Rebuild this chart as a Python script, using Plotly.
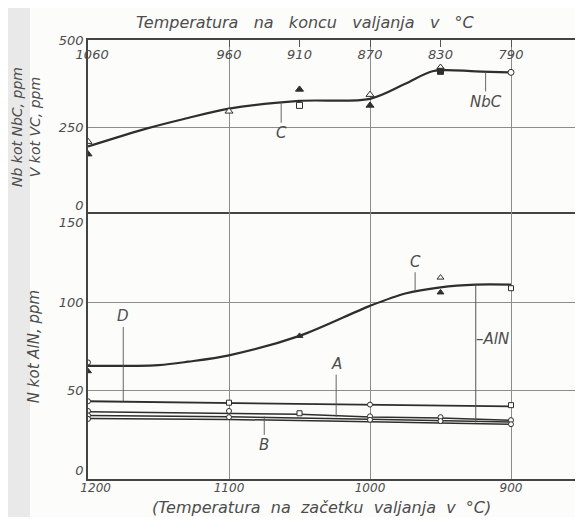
import plotly.graph_objects as go

# ---------------- data ----------------
# bottom axis: start-of-rolling temperature (°C); top axis: end-of-rolling temperature labels
x_start_ticks = [1200, 1100, 1000, 900]
x_start_labels = ["\u00a0\u00a0\u00a0\u00a01200", "1100", "1000", "900"]
x_end_pos = [1200, 1100, 1050, 1000, 950, 900]
x_end_labels = ["\u00a0\u00a01060", "960", "910", "870", "830", "790"]

y_top_ticks = [0, 250, 500]
y_top_labels = ["0<br> ", "250", "500"]
y_bot_ticks = [0, 50, 100, 150]
y_bot_labels = ["0<br> ", "50", "100", " <br>150"]

# upper panel: Nb as NbC / V as VC (ppm)
nbc_x = [1200, 1158, 1132, 1100, 1050, 1000, 975, 955, 925, 900]
nbc_y = [194, 246, 273, 303, 325, 331, 374, 411, 410, 407]
up_open_tri_x = [1200, 1100, 1000, 950]
up_open_tri_y = [208, 295, 343, 421]
up_fill_tri_x = [1200, 1050, 1000]
up_fill_tri_y = [172, 358, 312]
up_open_sq_x = [1050]
up_open_sq_y = [312]
up_fill_sq_x = [950]
up_fill_sq_y = [410]
up_open_circ_x = [900]
up_open_circ_y = [407]

# lower panel: N as AlN (ppm)
aln_x = [1200, 1150, 1129, 1100, 1050, 1000, 975, 950, 925, 900]
aln_y = [64, 64.5, 66.4, 70, 81, 98, 105, 108.5, 110, 110]
d_x = [1200, 1100, 1000, 900]
d_y = [44, 42.9, 42.1, 41.1]
a_x = [1200, 1100, 1050, 1000, 950, 900]
a_y = [38, 37, 36.6, 35.1, 34.5, 33.3]
b_x = [1200, 1100, 1000, 950, 900]
b_y = [36, 35.2, 33.8, 33.2, 32.3]
e_x = [1200, 1100, 1000, 900]
e_y = [34.3, 33.7, 32.4, 31.0]

lo_open_circ_x = [1200, 1200, 1000, 1200, 1200, 1200, 1100, 1100, 1000, 1000, 950, 950, 900, 900]
lo_open_circ_y = [66, 44, 42.1, 38.5, 36, 34, 38.5, 35, 35.5, 33.5, 35, 32.8, 33.3, 31]
lo_open_sq_x = [1100, 900, 1050, 900]
lo_open_sq_y = [43.2, 41.8, 37.2, 108]
lo_fill_tri_x = [1200, 1050, 950]
lo_fill_tri_y = [61, 81, 105.6]
lo_open_tri_x = [950]
lo_open_tri_y = [114]

# leader labels: (text, label x, label y, target y)
top_labels = [("C", 1063, 232, 322), ("NbC", 918, 322, 409)]
bot_labels = [("C", 968, 123, 106.5), ("D", 1175, 92, 44), ("A", 1024, 65, 35.2), ("B", 1075, 19, 35.4)]
aln_bracket_x = 925
aln_bracket_y = [110, 32.0]
aln_label_y = 79

INK = "#2e2e2e"
TXT = "#4d4d4d"
GRID = "#8c8c8c"
SP = "\u00a0"

fig = go.Figure()

def add(x, y, xa, ya, mode, symbol=None, size=7, width=2.0, shape="linear", filled=False):
    fig.add_trace(go.Scatter(
        x=x, y=y, xaxis=xa, yaxis=ya, mode=mode,
        line=dict(color=INK, width=width, shape=shape, smoothing=0.9),
        marker=dict(symbol=symbol or "circle", size=size,
                    color=INK if filled else "#fcfcfb",
                    line=dict(color=INK, width=1.0)),
        hoverinfo="skip"))

# upper panel
add(nbc_x, nbc_y, "x", "y2", "lines", shape="spline", width=2.2)
add(up_open_tri_x, up_open_tri_y, "x", "y2", "markers", "triangle-up", 7)
add(up_fill_tri_x, up_fill_tri_y, "x", "y2", "markers", "triangle-up", 7, filled=True)
add(up_open_sq_x, up_open_sq_y, "x", "y2", "markers", "square", 6)
add(up_fill_sq_x, up_fill_sq_y, "x", "y2", "markers", "square", 6, filled=True)
add(up_open_circ_x, up_open_circ_y, "x2", "y2", "markers", "circle", 6)

# lower panel
add(aln_x, aln_y, "x", "y", "lines", shape="spline", width=2.2)
add(d_x, d_y, "x", "y", "lines", width=1.8)
add(a_x, a_y, "x", "y", "lines", width=1.5)
add(b_x, b_y, "x", "y", "lines", width=1.5)
add(e_x, e_y, "x", "y", "lines", width=1.5)
add(lo_open_circ_x, lo_open_circ_y, "x", "y", "markers", "circle", 5)
add(lo_open_sq_x, lo_open_sq_y, "x", "y", "markers", "square", 5)
add(lo_fill_tri_x, lo_fill_tri_y, "x", "y", "markers", "triangle-up", 6, filled=True)
add(lo_open_tri_x, lo_open_tri_y, "x", "y", "markers", "triangle-up", 6)

annotations = []
for t, lx, ly, ty in top_labels:
    annotations.append(dict(x=lx, y=ty, xref="x", yref="y2", ax=lx, ay=ly, axref="x", ayref="y2",
                            text=t, showarrow=True, arrowhead=0, arrowwidth=0.9, arrowcolor="#555",
                            standoff=0, startstandoff=0, font=dict(size=15, color=TXT)))
for t, lx, ly, ty in bot_labels:
    annotations.append(dict(x=lx, y=ty, xref="x", yref="y", ax=lx, ay=ly, axref="x", ayref="y",
                            text=t, showarrow=True, arrowhead=0, arrowwidth=0.9, arrowcolor="#555",
                            standoff=0, startstandoff=0, font=dict(size=15, color=TXT)))
annotations.append(dict(x=aln_bracket_x, y=aln_label_y, xref="x", yref="y", text="–AlN",
                        showarrow=False, xanchor="left", xshift=-2, font=dict(size=15, color=TXT)))

# page has an 8px body margin: figure is sized to fit the 583x525 window without overflow
W, H = 567, 509
ML, MR, MT, MB = 80, 0, 32, 38
PW = W - ML - MR

top_title = (SP * 3).join(["Temperatura", "na", "koncu", "valjanja", "v", "°C"])
bot_title = (SP * 2).join(["(Temperatura", "na", "začetku", "valjanja", "v", "°C)"])

# axis titles (placed as paper-anchored texts, off-centre as in the original)
annotations.append(dict(x=(297.5 - ML) / PW, y=1, xref="paper", yref="paper", yshift=18,
                        xanchor="center", yanchor="middle", showarrow=False,
                        text=top_title, font=dict(size=16, color=TXT)))
annotations.append(dict(x=(313.5 - ML) / PW, y=0, xref="paper", yref="paper", yshift=-28,
                        xanchor="center", yanchor="middle", showarrow=False, borderpad=0,
                        text=bot_title, font=dict(size=16, color=TXT)))

shapes = [
    dict(type="line", xref="x", yref="y", x0=aln_bracket_x, x1=aln_bracket_x,
         y0=aln_bracket_y[0], y1=aln_bracket_y[1], line=dict(color="#555", width=1)),
    dict(type="rect", xref="paper", yref="paper", x0=-ML / PW, x1=-(ML - 22) / PW, y0=-1, y1=2,
         fillcolor="#e9e9e9", line_width=0, layer="below"),
]

split = 265 / 439.0
x_range = [1200, 1200 - PW / 1.41]

fig.update_layout(
    width=W, height=H,
    margin=dict(l=ML, r=MR, t=MT, b=MB, autoexpand=False),
    paper_bgcolor="#fcfcfb", plot_bgcolor="rgba(0,0,0,0)",
    font=dict(family="DejaVu Sans", size=12, color=TXT, style="italic"),
    showlegend=False,
    annotations=annotations, shapes=shapes,
    xaxis=dict(range=x_range, domain=[0, 1], anchor="y", automargin=False,
               tickmode="array", tickvals=x_start_ticks, ticktext=x_start_labels,
               showgrid=True, gridcolor=GRID, gridwidth=1, zeroline=False,
               showline=True, linecolor="#444", linewidth=1.6, mirror=True, ticks="",
               ticklabelstandoff=-3, tickfont=dict(size=12)),
    xaxis2=dict(range=x_range, overlaying="x", anchor="y2", side="top", automargin=False,
                tickmode="array", tickvals=x_end_pos, ticktext=x_end_labels,
                ticks="inside", ticklen=7, tickcolor="#555", ticklabelstandoff=-26,
                showgrid=False, zeroline=False, showline=True, linecolor="#444", linewidth=1.6,
                tickfont=dict(size=13)),
    yaxis=dict(domain=[0, split], range=[0, 150], anchor="x", automargin=False,
               tickmode="array", tickvals=y_bot_ticks, ticktext=y_bot_labels,
               showgrid=True, gridcolor=GRID, gridwidth=1, zeroline=False,
               showline=True, linecolor="#444", linewidth=1.6, mirror=True, ticks="",
               tickfont=dict(size=13),
               title=dict(text="N kot AlN, ppm", standoff=16, font=dict(size=15))),
    yaxis2=dict(domain=[split, 1], range=[0, 500], anchor="x", automargin=False,
                tickmode="array", tickvals=y_top_ticks, ticktext=y_top_labels,
                showgrid=True, gridcolor=GRID, gridwidth=1, zeroline=False,
                showline=True, linecolor="#444", linewidth=1.6, mirror=True, ticks="",
                tickfont=dict(size=13),
                title=dict(text="Nb kot NbC, ppm<br>V kot VC, ppm", standoff=15,
                           font=dict(size=14))),
)

fig.write_html("out.html")
